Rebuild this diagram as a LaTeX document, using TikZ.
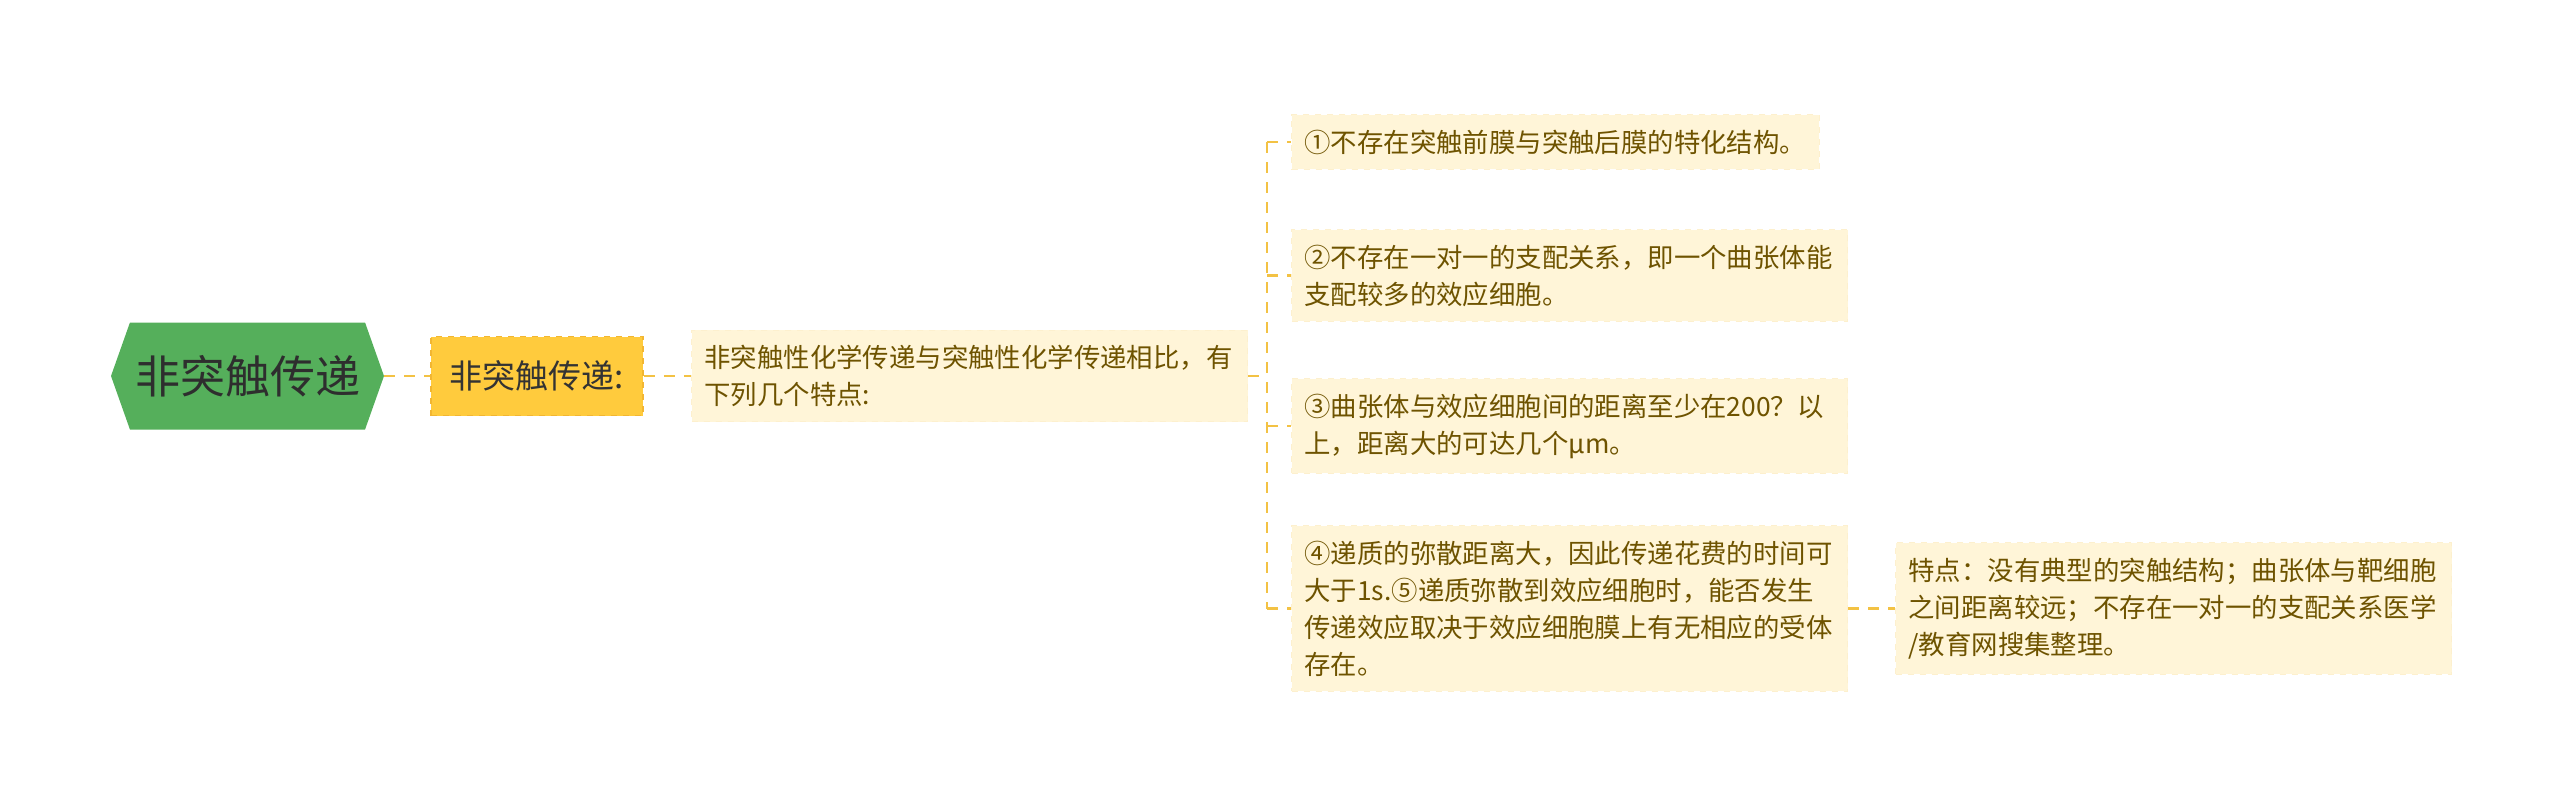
\documentclass[tikz,border=0pt]{standalone}
\usepackage{fontspec}
\setmainfont{Noto Sans CJK SC}
\usetikzlibrary{shapes.symbols,positioning}
\definecolor{rootg}{HTML}{55AF5B}
\definecolor{roott}{HTML}{2E2E2E}
\definecolor{subf}{HTML}{FFCB3D}
\definecolor{subd}{HTML}{F2B632}
\definecolor{subt}{HTML}{333333}
\definecolor{leaff}{HTML}{FFF5D8}
\definecolor{leafd}{HTML}{FDF0CE}
\definecolor{leaft}{HTML}{6E5300}
\definecolor{connc}{HTML}{F3C244}
\begin{document}
\begin{tikzpicture}[x=0.5pt,y=-0.5pt,
  conn/.style={draw=connc, line width=1.1pt, dash pattern=on 5.5pt off 4.5pt},
  rootnode/.style={signal, signal to=west and east, signal pointer angle=141, fill=rootg,
    minimum width=136.5pt, minimum height=53.5pt, inner sep=0pt,
    font=\fontsize{22.5pt}{27pt}\selectfont, text=roott},
  subnode/.style={fill=subf, draw=subd, dashed, line width=0.8pt, minimum width=106pt,
    minimum height=39.5pt, inner sep=0pt, font=\fontsize{16.5pt}{20pt}\selectfont, text=subt},
  leaf/.style={fill=leaff, draw=leafd, dashed, line width=0.5pt, inner xsep=6.5pt, inner ysep=7.5pt,
    font=\fontsize{13.2pt}{18.5pt}\selectfont, text=leaft, align=left},
  wide/.style={leaf, text width=265pt}
]
\useasboundingbox (0,0) rectangle (2560,804);
\node[rootnode] (root) at (247.5,376) {非突触传递};
\node[subnode] (sub) at (537,376) {非突触传递:};
\node[wide, anchor=west] (mid) at (691,376) {非突触性化学传递与突触性化学传递相比，有\\下列几个特点:};
\node[leaf, anchor=west] (l1) at (1291,142) {①不存在突触前膜与突触后膜的特化结构。};
\node[wide, anchor=west] (l2) at (1291,275.5) {②不存在一对一的支配关系，即一个曲张体能\\支配较多的效应细胞。};
\node[wide, anchor=west] (l3) at (1291,426) {③曲张体与效应细胞间的距离至少在200？以\\上，距离大的可达几个µm。};
\node[wide, anchor=west] (l4) at (1291,608.5) {④递质的弥散距离大，因此传递花费的时间可\\大于1s.⑤递质弥散到效应细胞时，能否发生\\传递效应取决于效应细胞膜上有无相应的受体\\存在。};
\node[wide, right=23.5pt of l4] (l5) {特点：没有典型的突触结构；曲张体与靶细胞\\之间距离较远；不存在一对一的支配关系医学\\/教育网搜集整理。};
\coordinate (br) at (1267,376);
\draw[conn] (root.east) -- (sub.west);
\draw[conn] (sub.east) -- (mid.west);
\draw[conn] (mid.east) -- (br);
\draw[conn] (l1.west -| br) -- (l4.west -| br);
\foreach \n in {l1,l2,l3,l4} \draw[conn] (\n.west -| br) -- (\n.west);
\draw[conn] (l4.east) -- (l5.west);
\end{tikzpicture}
\end{document}
